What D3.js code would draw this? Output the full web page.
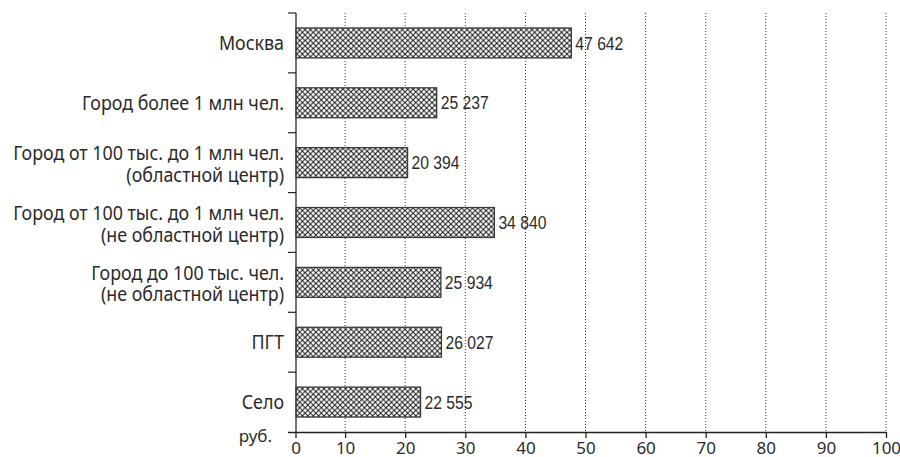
<!DOCTYPE html>
<html><head><meta charset="utf-8">
<script src="https://cdn.jsdelivr.net/npm/d3@7"></script>
<style>
html,body{margin:0;padding:0;background:#fff;}
svg{display:block;}
</style></head>
<body>
<svg id="chart" width="900" height="457"></svg>
<script>
const categories = [
  ["Москва"],
  ["Город более 1 млн чел."],
  ["Город от 100 тыс. до 1 млн чел.", "(областной центр)"],
  ["Город от 100 тыс. до 1 млн чел.", "(не областной центр)"],
  ["Город до 100 тыс. чел.", "(не областной центр)"],
  ["ПГТ"],
  ["Село"]
];
const values = [47642, 25237, 20394, 34840, 25934, 26027, 22555];
const valueLabels = ["47 642", "25 237", "20 394", "34 840", "25 934", "26 027", "22 555"];
const xTicks = [0, 10, 20, 30, 40, 50, 60, 70, 80, 90, 100];
const unitLabel = "руб.";

(function () {
const svg = d3.select("#chart");
const labelFont = "'Noto Sans', 'Open Sans', sans-serif";
const valueFont = "'Liberation Sans', Arial, sans-serif";
const textColor = "#2b2b2b";

const axisX0 = 296;          // y-axis position
const plotTop = 13, plotBottom = 432;

const x = d3.scaleLinear().domain([0, 100]).range([285, 886]);
const ids = categories.map((d, i) => "c" + i);
const y = d3.scaleBand().domain(ids).range([plotTop, plotBottom]).paddingInner(0.5).paddingOuter(0.25);

// pattern
const defs = svg.append("defs");
const p = defs.append("pattern").attr("id", "hatch").attr("patternUnits", "userSpaceOnUse")
  .attr("width", 5.4).attr("height", 5.4);
p.append("rect").attr("width", 5.4).attr("height", 5.4).attr("fill", "#fff");
p.append("path").attr("d", "M0,0 L5.4,5.4 M0,5.4 L5.4,0")
  .attr("stroke", "#1a1a1a").attr("stroke-width", 1);

// gridlines
svg.append("g").selectAll("line").data(xTicks.filter(t => t > 0)).join("line")
  .attr("x1", d => x(d)).attr("x2", d => x(d))
  .attr("y1", plotTop).attr("y2", plotBottom)
  .attr("stroke", "#333").attr("stroke-width", 1).attr("stroke-dasharray", "1,2");

// bars
svg.append("g").selectAll("rect").data(values).join("rect")
  .attr("x", axisX0)
  .attr("y", (d, i) => y(ids[i]))
  .attr("width", d => x(d / 1000) - axisX0)
  .attr("height", y.bandwidth())
  .attr("fill", "url(#hatch)")
  .attr("stroke", "#3a3a3a").attr("stroke-width", 1.3);

// value labels (condensed)
const vl = svg.append("g").selectAll("text").data(values).join("text")
  .attr("dy", "0.36em")
  .attr("font-family", valueFont).attr("font-size", 18.5).attr("fill", textColor)
  .text((d, i) => valueLabels[i]);
const vw = vl.nodes()[0].getComputedTextLength();
const vk = Math.min(1, 48 / vw);
vl.attr("transform", (d, i) => `translate(${x(d / 1000) + 4},${y(ids[i]) + y.bandwidth() / 2}) scale(${vk},1)`);

// x axis
const xAxis = svg.append("g").attr("transform", `translate(0,${plotBottom})`)
  .call(d3.axisBottom(x).tickValues(xTicks).tickSize(6).tickSizeOuter(0).tickPadding(4));
xAxis.select(".domain").attr("d", `M288,0.5H${x(100)}`).attr("stroke", "#222").attr("stroke-width", 1.3);
xAxis.selectAll(".tick").filter(d => d === 0).attr("transform", `translate(${axisX0},0)`);
xAxis.selectAll(".tick line").attr("stroke", "#222").attr("stroke-width", 1.3);
xAxis.selectAll(".tick text").attr("font-family", labelFont).attr("font-size", 17).attr("fill", textColor);

// y axis
svg.append("line").attr("x1", axisX0).attr("x2", axisX0).attr("y1", plotTop).attr("y2", plotBottom)
  .attr("stroke", "#444").attr("stroke-width", 1.5);
svg.append("g").selectAll("line").data(ids).join("line")
  .attr("x1", 288).attr("x2", axisX0)
  .attr("y1", d => y(d) - y.bandwidth() * 0.5)
  .attr("y2", d => y(d) - y.bandwidth() * 0.5)
  .attr("stroke", "#222").attr("stroke-width", 1.2);

// category labels (condensed)
const lab = svg.append("g").selectAll("text").data(categories).join("text")
  .attr("text-anchor", "end")
  .attr("font-family", labelFont).attr("font-size", 19.5).attr("fill", textColor);
lab.each(function (d) {
  const t = d3.select(this);
  if (d.length === 1) {
    t.append("tspan").attr("x", 0).attr("y", 0).attr("dy", "0.36em").text(d[0]);
  } else {
    t.append("tspan").attr("x", 0).attr("y", -2.5).text(d[0]);
    t.append("tspan").attr("x", 0).attr("y", 19).text(d[1]);
  }
});
const longest = lab.filter((d, i) => i === 2).select("tspan").node().getComputedTextLength();
const ck = Math.min(1, 271 / longest);
lab.attr("transform", (d, i) => `translate(284,${y(ids[i]) + y.bandwidth() / 2}) scale(${ck},1)`);

// unit label
svg.append("text").attr("x", 272).attr("y", 442).attr("text-anchor", "end")
  .attr("font-family", labelFont).attr("font-size", 17).attr("fill", textColor).text(unitLabel);
})();
</script>
</body></html>
